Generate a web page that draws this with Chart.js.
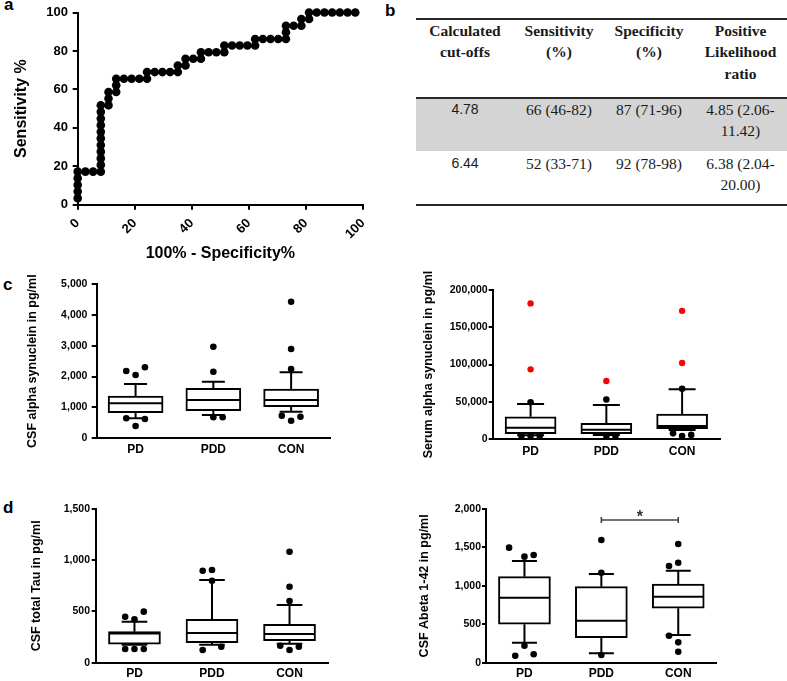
<!DOCTYPE html>
<html>
<head>
<meta charset="utf-8">
<script src="https://cdn.jsdelivr.net/npm/chart.js@4.4.1/dist/chart.umd.min.js"></script>
<style>
  body { margin: 0; background: #fff; width: 787px; height: 681px; position: relative; overflow: hidden;
         font-family: "Liberation Sans", Arial, sans-serif; }
  canvas { position: absolute; }
  .letter { position: absolute; font-weight: bold; font-size: 17px; line-height: 17px; color: #000; }
  .rule { position: absolute; left: 416px; width: 371px; height: 2px; background: #2a2a2a; }
  .shade { position: absolute; left: 416px; width: 371px; background: #d4d4d4; }
  .cell { position: absolute; text-align: center; font-family: "Liberation Serif", "Times New Roman", serif;
          font-size: 15.5px; color: #1a1a1a; white-space: nowrap; }
  .cell.head { font-weight: bold; line-height: 21.3px; }
  .cell.body { line-height: 21.5px; }
  .cell.sans { font-family: "Liberation Sans", Arial, sans-serif; font-size: 14px; }
</style>
</head>
<body>
<div class="letter" style="left:4px;top:-4px">a</div>
<div class="letter" style="left:385px;top:2px">b</div>
<div class="letter" style="left:3px;top:276px">c</div>
<div class="letter" style="left:3px;top:499px">d</div>

<canvas id="roc" width="380" height="265" style="left:0;top:0"></canvas>
<div id="table"></div>
<canvas id="csfAsyn" width="340" height="190" style="left:0;top:270px"></canvas>
<canvas id="serumAsyn" width="330" height="190" style="left:400px;top:270px"></canvas>
<canvas id="tau" width="340" height="191" style="left:0;top:490px"></canvas>
<canvas id="abeta" width="330" height="191" style="left:400px;top:490px"></canvas>

<script>
// ---- data ----
const groups = ['PD', 'PDD', 'CON'];

// a: ROC curve
const rocFpr = [0, 0, 0, 0, 0, 2.7, 5.4, 8.1,
  8.1, 8.1, 8.1, 8.1, 8.1, 8.1, 8.1, 8.1, 8.1, 8.1,
  10.8, 10.8, 10.8, 13.5, 13.5, 13.5, 16.2, 18.9, 21.6, 24.3,
  24.3, 27.0, 29.7, 32.4, 35.1, 35.1, 37.8, 37.8, 40.5, 43.2,
  43.2, 45.9, 48.6, 51.4, 51.4, 54.1, 56.8, 59.5, 62.2,
  62.2, 64.9, 67.6, 70.3, 73.0, 73.0, 73.0, 75.7, 78.4,
  78.4, 81.1, 81.1, 83.8, 86.5, 89.2, 91.9, 94.6, 97.3];
const rocSens = [3.4, 6.9, 10.3, 13.8, 17.2, 17.2, 17.2, 17.2,
  20.7, 24.1, 27.6, 31.0, 34.5, 37.9, 41.4, 44.8, 48.3, 51.7,
  51.7, 55.2, 58.6, 58.6, 62.1, 65.5, 65.5, 65.5, 65.5, 65.5,
  69.0, 69.0, 69.0, 69.0, 69.0, 72.4, 72.4, 75.9, 75.9, 75.9,
  79.3, 79.3, 79.3, 79.3, 82.8, 82.8, 82.8, 82.8, 82.8,
  86.2, 86.2, 86.2, 86.2, 86.2, 89.7, 93.1, 93.1, 93.1,
  96.6, 96.6, 100, 100, 100, 100, 100, 100, 100];
const rocTicks = [0, 20, 40, 60, 80, 100];

// b: cut-off table
const tableHeader = ['Calculated<br>cut-offs', 'Sensitivity<br>(%)', 'Specificity<br>(%)', 'Positive<br>Likelihood<br>ratio'];
const cutoffs = ['4.78', '6.44'];
const sensitivity = ['66 (46-82)', '52 (33-71)'];
const specificity = ['87 (71-96)', '92 (78-98)'];
const likelihood = ['4.85 (2.06-<br>11.42)', '6.38 (2.04-<br>20.00)'];

// c: CSF alpha synuclein
const csfAsynQ1 = [830, 894, 1024];
const csfAsynMedian = [1134, 1240, 1240];
const csfAsynQ3 = [1370, 1620, 1597];
const csfAsynLow = [650, 755, 862];
const csfAsynHigh = [1760, 1833, 2138];
const csfAsynOutliers = [[2180, 2050, 2300, 648, 398, 625], [2968, 2158, 680, 680], [4425, 2893, 2245, 732, 570, 700]];
const csfAsynTicks = [0, 1000, 2000, 3000, 4000, 5000];

// c: serum alpha synuclein
const serumQ1 = [7000, 7200, 14000];
const serumMedian = [15000, 12500, 17500];
const serumQ3 = [29900, 21000, 33500];
const serumLow = [5000, 5500, 12000];
const serumHigh = [47000, 45600, 66700];
const serumOutliers = [[49300, 4400, 4400, 4400], [53000, 4000, 4000], [67500, 7600, 4000, 5500]];
const serumRedOutliers = [[182000, 93500], [77800], [172000, 102000]];
const serumTicks = [0, 50000, 100000, 150000, 200000];

// d: CSF total Tau
const tauQ1 = [182, 195, 215];
const tauMedian = [285, 290, 280];
const tauQ3 = [303, 423, 375];
const tauLow = [175, 175, 185];
const tauHigh = [400, 807, 563];
const tauOutliers = [[449, 423, 498, 134, 134, 134], [898, 905, 800, 124, 156], [1083, 741, 602, 166, 124, 156]];
const tauTicks = [0, 500, 1000, 1500];

// d: CSF Abeta 1-42
const abetaQ1 = [500, 325, 708];
const abetaMedian = [846, 547, 859];
const abetaQ3 = [1119, 989, 1024];
const abetaLow = [260, 122, 360];
const abetaHigh = [1323, 1154, 1197];
const abetaOutliers = [[1497, 1380, 1402, 221, 91, 109], [1597, 1171, 100], [1545, 1258, 1301, 351, 265, 143]];
const abetaTicks = [0, 500, 1000, 1500, 2000];
const sigPair = [1, 2];
const sigLevel = 1857;
const sigLabel = '*';

// ---- defaults ----
Chart.defaults.font.family = '"Liberation Sans", Arial, sans-serif';
Chart.defaults.color = '#000';
Chart.defaults.animation = false;
Chart.defaults.events = [];
Chart.defaults.plugins.legend.display = false;
Chart.defaults.plugins.tooltip.enabled = false;

// ---- b: table ----
const colLeft = [416, 514, 604, 694];
const colWidth = [98, 90, 90, 93];
let html = '<div class="rule" style="top:18px"></div>' +
  '<div class="rule" style="top:97px"></div>' +
  '<div class="shade" style="top:99px;height:52px"></div>' +
  '<div class="rule" style="top:204px"></div>';
tableHeader.forEach((t, c) => {
  html += `<div class="cell head" style="left:${colLeft[c]}px;width:${colWidth[c]}px;top:20px">${t}</div>`;
});
const rowTop = [98.5, 152.5];
cutoffs.forEach((cut, r) => {
  const cells = [cut, sensitivity[r], specificity[r], likelihood[r]];
  cells.forEach((t, c) => {
    html += `<div class="cell body${c === 0 ? ' sans' : ''}" style="left:${colLeft[c]}px;width:${colWidth[c]}px;top:${rowTop[r]}px">${t}</div>`;
  });
});
document.getElementById('table').innerHTML = html;

// ---- a: ROC curve ----
new Chart(document.getElementById('roc'), {
  type: 'scatter',
  data: {
    datasets: [{
      data: rocFpr.map((x, i) => ({x: x, y: rocSens[i]})),
      showLine: true,
      borderColor: '#000',
      borderWidth: 2,
      pointRadius: 4.3,
      pointBackgroundColor: '#000',
      pointBorderWidth: 0,
      clip: false
    }]
  },
  options: {
    responsive: false,
    devicePixelRatio: 1,
    layout: {autoPadding: false, padding: {left: 0, top: 12.3, right: 12.3, bottom: 0}},
    scales: {
      x: {
        type: 'linear', min: 0, max: 100,
        afterBuildTicks: s => { s.ticks = rocTicks.map(v => ({value: v})); },
        ticks: {minRotation: 45, maxRotation: 45, padding: 6, font: {size: 13, weight: 'bold'}},
        grid: {drawOnChartArea: false, drawTicks: true, tickLength: 5, color: '#000', lineWidth: 2},
        border: {display: true, color: '#000', width: 2},
        title: {display: true, text: '100% - Specificity%', font: {size: 16, weight: 'bold'}, padding: {top: 0, bottom: 1.4}},
        afterFit: s => { s.height = 60.3; }
      },
      y: {
        type: 'linear', min: 0, max: 100,
        afterBuildTicks: s => { s.ticks = rocTicks.map(v => ({value: v})); },
        ticks: {padding: 4.7, font: {size: 13, weight: 'bold'}},
        grid: {drawOnChartArea: false, drawTicks: true, tickLength: 5, color: '#000', lineWidth: 2},
        border: {display: true, color: '#000', width: 2},
        title: {display: true, text: 'Sensitivity %', font: {size: 16, weight: 'bold'}, padding: {top: 12.4, bottom: 0}},
        afterFit: s => { s.width = 77.7; }
      }
    }
  }
});

// ---- box plots ----
const sigBracket = {
  id: 'sigBracket',
  afterDatasetsDraw(chart) {
    const {ctx, scales: {x, y}} = chart;
    ctx.save();
    ctx.font = 'bold 16px "Liberation Sans", Arial, sans-serif';
    ctx.fillStyle = '#333';
    ctx.textAlign = 'center';
    ctx.textBaseline = 'alphabetic';
    ctx.fillText(sigLabel, x.getPixelForValue((sigPair[0] + sigPair[1]) / 2), y.getPixelForValue(sigLevel) + 2);
    ctx.restore();
  }
};

function makeBoxPlot(id, d, s) {
  const boxes = groups.map((_, g) => ({x: g, y: [d.q1[g], d.q3[g]]}));
  const medians = groups.map((_, g) => ({x: g, y: d.median[g]}));
  const caps = [];
  const whiskers = [];
  groups.forEach((_, g) => {
    caps.push({x: g, y: d.low[g]}, {x: g, y: d.high[g]});
    whiskers.push({x: g, y: d.q3[g]}, {x: g, y: d.high[g]}, {x: g, y: null},
                  {x: g, y: d.q1[g]}, {x: g, y: d.low[g]}, {x: g, y: null});
  });
  const dots = [];
  d.outliers.forEach((vals, g) => vals.forEach((v, k) => dots.push({x: g + s.spread[g][k], y: v})));

  const datasets = [
    {type: 'scatter', data: dots, pointRadius: 3.3, pointBackgroundColor: '#000', pointBorderWidth: 0, order: 0, clip: false},
    {type: 'scatter', data: medians, pointStyle: 'line', pointRadius: s.box / 2 - 1, pointBorderColor: '#000', pointBorderWidth: 2, order: 1},
    {type: 'scatter', data: caps, pointStyle: 'line', pointRadius: s.cap, pointBorderColor: '#000', pointBorderWidth: 2, order: 2},
    {type: 'bar', data: boxes, backgroundColor: '#fff', borderColor: '#000', borderWidth: 2, borderSkipped: false, barThickness: s.box, order: 3},
    {type: 'line', data: whiskers, borderColor: '#000', borderWidth: 2, pointRadius: 0, spanGaps: false, order: 4}
  ];
  if (d.red) {
    const reds = [];
    d.red.forEach((vals, g) => vals.forEach(v => reds.push({x: g, y: v})));
    datasets.unshift({type: 'scatter', data: reds, pointRadius: 3.2, pointBackgroundColor: '#ff0000', pointBorderWidth: 0, order: 0, clip: false});
  }
  if (d.sig) {
    const a = sigPair[0], b = sigPair[1];
    datasets.push({type: 'line', data: [
      {x: a, y: sigLevel + 40}, {x: a, y: sigLevel - 40}, {x: a, y: null},
      {x: a, y: sigLevel}, {x: b, y: sigLevel}, {x: b, y: null},
      {x: b, y: sigLevel + 40}, {x: b, y: sigLevel - 40}
    ], borderColor: '#444', borderWidth: 1.6, pointRadius: 0, spanGaps: false, order: 5});
  }

  new Chart(document.getElementById(id), {
    type: 'bar',
    data: {datasets: datasets},
    plugins: d.sig ? [sigBracket] : [],
    options: {
      responsive: false,
      devicePixelRatio: 1,
      layout: {autoPadding: false, padding: {left: 0, top: s.padT, right: s.padR, bottom: 0}},
      scales: {
        x: {
          type: 'linear', min: -0.5, max: 2.5, offset: false,
          afterBuildTicks: sc => { sc.ticks = groups.map((_, i) => ({value: i})); },
          ticks: {callback: v => groups[v], autoSkip: false, maxRotation: 0, padding: s.xPad, font: {size: 12, weight: 'bold'}},
          grid: {display: false, drawTicks: false},
          border: {display: true, color: '#000', width: 2},
          afterFit: sc => { sc.height = s.xH; }
        },
        y: {
          type: 'linear', min: 0, max: d.ticks[d.ticks.length - 1],
          afterBuildTicks: sc => { sc.ticks = d.ticks.map(v => ({value: v})); },
          ticks: {callback: v => v.toLocaleString('en-US'), padding: s.yPad, font: {size: 10.5, weight: 'bold'}},
          grid: {drawOnChartArea: false, drawTicks: true, tickLength: s.tick, color: '#000', lineWidth: 2},
          border: {display: true, color: '#000', width: 2},
          title: {display: true, text: d.title, font: {size: 12.5, weight: 'bold'}, padding: {top: s.titlePad, bottom: 0}},
          afterFit: sc => { sc.width = s.yW; }
        }
      }
    }
  });
}

makeBoxPlot('csfAsyn', {
  q1: csfAsynQ1, median: csfAsynMedian, q3: csfAsynQ3, low: csfAsynLow, high: csfAsynHigh,
  outliers: csfAsynOutliers, ticks: csfAsynTicks, title: 'CSF alpha synuclein in pg/ml'
}, {
  padT: 14, padR: 10, yW: 96.7, xH: 21.7, xPad: 4.5, yPad: 4.3, tick: 5, titlePad: 25.5, box: 55, cap: 11.5,
  spread: [[-0.12, 0, 0.12, -0.12, 0, 0.12], [0, 0, 0, 0.12], [0, 0, 0, -0.12, 0, 0.12]]
});

makeBoxPlot('serumAsyn', {
  q1: serumQ1, median: serumMedian, q3: serumQ3, low: serumLow, high: serumHigh,
  outliers: serumOutliers, red: serumRedOutliers, ticks: serumTicks, title: 'Serum alpha synuclein in pg/ml'
}, {
  padT: 20, padR: 10, yW: 92.7, xH: 21, xPad: 5.5, yPad: 1, tick: 4, titlePad: 20.8, box: 51, cap: 13.5,
  spread: [[0, -0.12, 0, 0.12], [0, 0, 0.12], [0, -0.12, 0, 0.12]]
});

makeBoxPlot('tau', {
  q1: tauQ1, median: tauMedian, q3: tauQ3, low: tauLow, high: tauHigh,
  outliers: tauOutliers, ticks: tauTicks, title: 'CSF total Tau in pg/ml'
}, {
  padT: 19, padR: 11.7, yW: 95.7, xH: 18.3, xPad: 4.1, yPad: 1.7, tick: 4, titlePad: 29.2, box: 52, cap: 12.8,
  spread: [[-0.12, 0, 0.12, -0.12, 0, 0.12], [-0.12, 0, 0, -0.12, 0.12], [0, 0, 0, -0.12, 0, 0.12]]
});

makeBoxPlot('abeta', {
  q1: abetaQ1, median: abetaMedian, q3: abetaQ3, low: abetaLow, high: abetaHigh,
  outliers: abetaOutliers, ticks: abetaTicks, title: 'CSF Abeta 1-42 in pg/ml', sig: true
}, {
  padT: 19, padR: 13.3, yW: 86, xH: 18.3, xPad: 4.1, yPad: 1, tick: 4, titlePad: 17.5, box: 52, cap: 12.5,
  spread: [[-0.2, 0, 0.12, 0, -0.12, 0.12], [0, 0, 0], [0, -0.12, 0, -0.12, 0, 0]]
});
</script>
</body>
</html>
